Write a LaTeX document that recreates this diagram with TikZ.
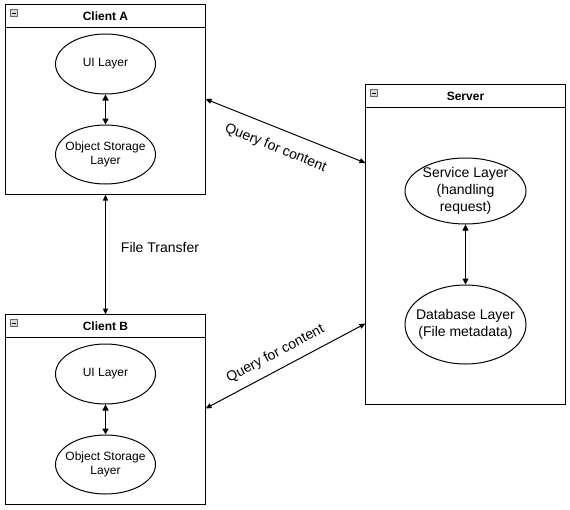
\documentclass[tikz,border=0pt]{standalone}
\usepackage{fontspec}
\setmainfont{Liberation Sans}
\usetikzlibrary{arrows.meta,shapes.geometric}
\begin{document}
\begin{tikzpicture}[x=1pt,y=-1pt,
  box/.style={draw=black,line width=1pt,fill=white},
  layer/.style={draw=black,line width=1pt,ellipse,inner sep=0pt},
  hdr/.style={font=\fontsize{12}{14}\selectfont\bfseries},
  lbl/.style={font=\fontsize{12}{14}\selectfont,align=center},
  big/.style={font=\fontsize{14}{17}\selectfont,align=center},
  conn/.style={line width=1pt,{Triangle[length=6pt,width=5pt]}-{Triangle[length=6pt,width=5pt]}},
  inner/.style={line width=1.5pt,{Triangle[length=6pt,width=6pt]}-{Triangle[length=6pt,width=6pt]}},
  mini/.style={draw=black!60,fill=black!15,line width=0.6pt}
]
\useasboundingbox (0,0) rectangle (570,509);
% Client A
\draw[box] (5.5,4.5) rectangle (205.5,194.5);
\draw[line width=1pt] (5.5,27.5) -- (205.5,27.5);
\node[hdr] (cah) at (105.5,16) {Client A};
\draw[mini] (10.5,9.5) rectangle (17.5,16.5); \draw[line width=0.8pt] (12,13) -- (16,13);
\node[layer,minimum width=100pt,minimum height=60pt] (caui) at (105.5,64) {};
\node[lbl] (cauit) at (caui) {UI Layer};
\node[layer,minimum width=100pt,minimum height=59pt] (caos) at (105.5,154.5) {};
\node[lbl] (caost) at (caos) {Object Storage\\Layer};
\draw[inner] (caui) -- (caos);
\coordinate (caB) at (105.5,194.5);
\coordinate (caR) at (205.5,99);
% Client B
\draw[box] (5.5,314.5) rectangle (205.5,504.5);
\draw[line width=1pt] (5.5,337.5) -- (205.5,337.5);
\node[hdr] (cbh) at (105.5,326) {Client B};
\draw[mini] (10.5,319.5) rectangle (17.5,326.5); \draw[line width=0.8pt] (12,323) -- (16,323);
\node[layer,minimum width=100pt,minimum height=60pt] (cbui) at (105.5,374) {};
\node[lbl] (cbuit) at (cbui) {UI Layer};
\node[layer,minimum width=100pt,minimum height=59pt] (cbos) at (105.5,464.5) {};
\node[lbl] (cbost) at (cbos) {Object Storage\\Layer};
\draw[inner] (cbui) -- (cbos);
\coordinate (cbT) at (105.5,314.5);
\coordinate (cbR) at (205.5,408.5);
% Server
\draw[box] (365.5,84.5) rectangle (565.5,404.5);
\draw[line width=1pt] (365.5,107.5) -- (565.5,107.5);
\node[hdr] (svh) at (465.5,96) {Server};
\draw[mini] (370.5,89.5) rectangle (377.5,96.5); \draw[line width=0.8pt] (372,93) -- (376,93);
\node[layer,minimum width=121pt,minimum height=66pt] (svc) at (465.5,191) {};
\node[big] (svct) at (svc) {Service Layer\\(handling\\request)};
\node[layer,minimum width=121pt,minimum height=79pt] (db) at (465.5,324.5) {};
\node[big] (dbt) at (db) {Database Layer\\(File metadata)};
\draw[inner,line width=1pt] (svc) -- (db);
\coordinate (svA) at (365.5,163);
\coordinate (svB) at (365.5,323.5);
% connectors
\draw[conn] (caR) -- (svA);
\draw[conn] (cbR) -- (svB);
\draw[conn] (caB) -- (cbT);
\node[big,rotate=-22] (q1) at (275.5,148) {Query for content};
\node[big,rotate=28] (q2) at (275.5,354) {Query for content};
\node[big] (ft) at (160,247) {File Transfer};
\end{tikzpicture}
\end{document}
